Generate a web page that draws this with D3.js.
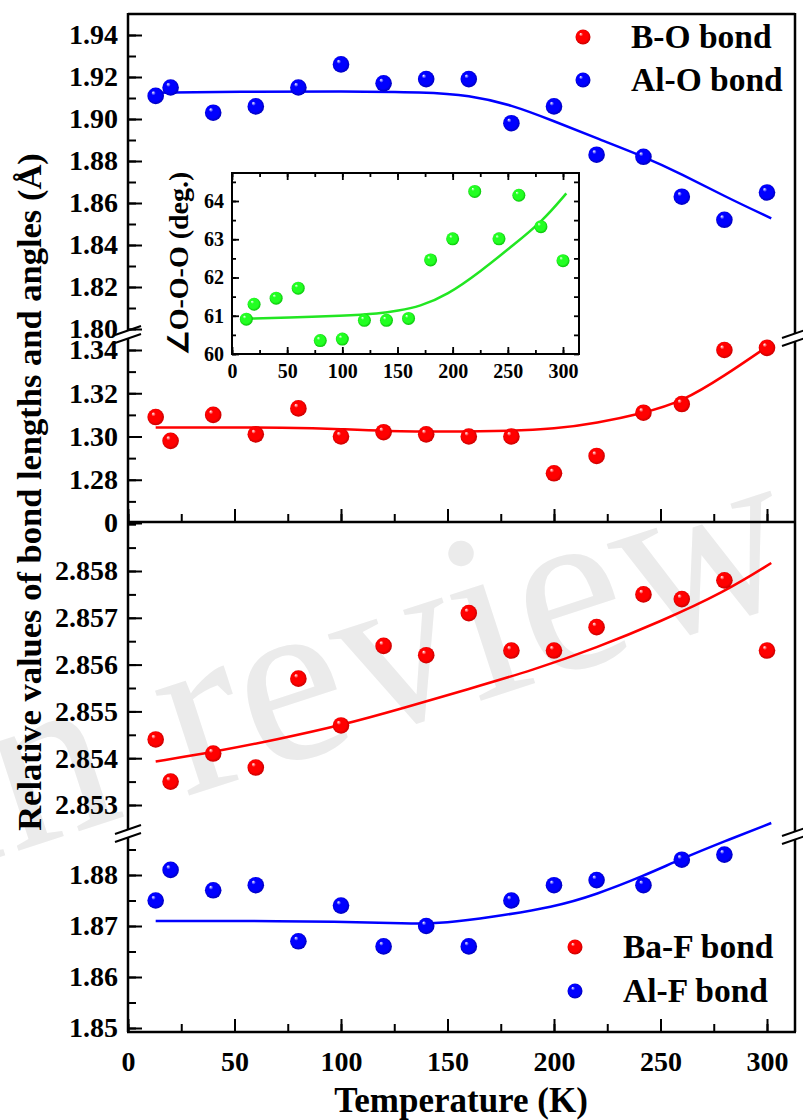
<!DOCTYPE html>
<html>
<head>
<meta charset="utf-8">
<script src="https://cdn.jsdelivr.net/npm/d3@7"></script>
<style>
  body { margin: 0; background: #ffffff; }
  svg { display: block; }
</style>
</head>
<body>
<svg id="chart" width="803" height="1120"></svg>
<script>
// temperatures (K)
const temps = [13, 20, 40, 60, 80, 100, 120, 140, 160, 180, 200, 220, 242, 260, 280, 300];

// measured points
const alO = [1.911, 1.915, 1.903, 1.906, 1.915, 1.926, 1.917, 1.919, 1.919, 1.898, 1.906, 1.883, 1.882, 1.863, 1.852, 1.865];
const bO = [1.309, 1.298, 1.310, 1.301, 1.313, 1.300, 1.302, 1.301, 1.300, 1.300, 1.283, 1.291, 1.311, 1.315, 1.340, 1.341];
const baF = [2.8544, 2.8535, 2.8541, 2.8538, 2.8557, 2.8547, 2.8564, 2.8562, 2.8571, 2.8563, 2.8563, 2.8568, 2.8575, 2.8574, 2.8578, 2.8563];
const alF = [1.875, 1.881, 1.877, 1.878, 1.867, 1.874, 1.866, 1.870, 1.866, 1.875, 1.878, 1.879, 1.878, 1.883, 1.884];
const angleOOO = [60.91, 61.30, 61.46, 61.72, 60.35, 60.39, 60.88, 60.88, 60.93, 62.46, 63.01, 64.25, 63.01, 64.15, 63.33, 62.44];

// fitted curves
const alOFitT = [13, 60, 100, 140, 160, 180, 200, 220, 242, 260, 280, 302];
const alOFit = [1.9125, 1.9131, 1.9132, 1.9128, 1.9114, 1.9068, 1.8990, 1.8908, 1.8822, 1.8738, 1.8632, 1.8527];
const bOFitT = [13, 80, 100, 120, 150, 180, 200, 220, 242, 260, 280, 300];
const bOFit = [1.3042, 1.3042, 1.3034, 1.3025, 1.3022, 1.3025, 1.3035, 1.3062, 1.3108, 1.3160, 1.3280, 1.3415];
const baFFitT = [13, 40, 70, 100, 130, 160, 190, 220, 250, 280, 302];
const baFFit = [2.85393, 2.85413, 2.8544, 2.8547, 2.85508, 2.85548, 2.85588, 2.85636, 2.85692, 2.85755, 2.85817];
const alFFitT = [13, 50, 100, 130, 150, 170, 200, 220, 242, 260, 280, 302];
const alFFit = [1.8710, 1.8710, 1.8709, 1.8704, 1.8706, 1.8717, 1.8737, 1.8762, 1.8798, 1.8832, 1.8866, 1.8902];
const angleFitT = [13, 50, 100, 134, 150, 170, 195, 225, 255, 281, 303];
const angleFit = [60.92, 60.95, 61.0, 61.06, 61.13, 61.24, 61.54, 62.15, 62.85, 63.46, 64.2];

// ticks
const xTicks = [0, 50, 100, 150, 200, 250, 300];
const alOTicks = [1.80, 1.82, 1.84, 1.86, 1.88, 1.90, 1.92, 1.94];
const bOTicks = [1.26, 1.28, 1.30, 1.32, 1.34];
const bOTickLabels = ["0", "1.28", "1.30", "1.32", "1.34"];
const baFTicks = [2.853, 2.854, 2.855, 2.856, 2.857, 2.858];
const alFTicks = [1.85, 1.86, 1.87, 1.88];
const insetYTicks = [60, 61, 62, 63, 64];

const legendTop = ["B-O bond", "Al-O bond"];
const legendBottom = ["Ba-F bond", "Al-F bond"];

const serif = "'Liberation Serif', 'Times New Roman', serif";
const RED = "#ff0000";
const BLUE = "#0000ff";
const GREEN = "#22e622";

const svg = d3.select("#chart");
const frame = { left: 128, right: 795, top: 14, mid: 522, bottom: 1032 };

const x = d3.scaleLinear().domain([0, 300]).range([128, 767]);
const yAlO = d3.scaleLinear().domain([1.80, 1.94]).range([329, 35]);
const yBO = d3.scaleLinear().domain([1.26, 1.34]).range([523, 350]);
const yBaF = d3.scaleLinear().domain([2.853, 2.858]).range([805, 571]);
const yAlF = d3.scaleLinear().domain([1.85, 1.88]).range([1028, 875]);

const xi = d3.scaleLinear().domain([0, 300]).range([232, 563]);
const yi = d3.scaleLinear().domain([60, 64]).range([354, 201]);

// sphere gradients
const defs = svg.append("defs");
const ball = (id, base, dark) => {
  const g = defs
    .append("radialGradient")
    .attr("id", id)
    .attr("cx", "50%")
    .attr("cy", "50%")
    .attr("r", "55%")
    .attr("fx", "33%")
    .attr("fy", "28%");
  g.append("stop").attr("offset", "0%").attr("stop-color", "#ffffff");
  g.append("stop").attr("offset", "24%").attr("stop-color", base);
  g.append("stop").attr("offset", "70%").attr("stop-color", base);
  g.append("stop").attr("offset", "100%").attr("stop-color", dark);
};
ball("ball-red", RED, "#b80000");
ball("ball-blue", BLUE, "#0000a8");
ball("ball-green", "#22ff22", "#00b000");

// watermark
svg
  .append("text")
  .attr("transform", "translate(175,800) rotate(-18)")
  .attr("x", -250)
  .attr("font-family", serif)
  .attr("font-size", 240)
  .attr("fill", "#ebebeb")
  .text("In review");

// y axes (ticks inside, labels left)
const yAxis = (scale, values, labels, minorStep, extent) => {
  const minor = d3.range(extent[0], extent[1] + minorStep / 2, minorStep);
  svg
    .append("g")
    .attr("transform", `translate(${frame.left},0)`)
    .call(d3.axisLeft(scale).tickValues(minor).tickSizeInner(-8).tickSizeOuter(0).tickFormat(""))
    .call((g) => g.select(".domain").remove())
    .call((g) => g.selectAll("line").attr("stroke", "#000").attr("stroke-width", 2));
  svg
    .append("g")
    .attr("transform", `translate(${frame.left},0)`)
    .call(
      d3
        .axisLeft(scale)
        .tickValues(values)
        .tickSizeInner(-14)
        .tickSizeOuter(0)
        .tickPadding(10)
        .tickFormat((d, i) => labels[i])
    )
    .attr("font-family", serif)
    .attr("font-size", 28)
    .attr("font-weight", "bold")
    .call((g) => g.select(".domain").remove())
    .call((g) => g.selectAll("line").attr("stroke", "#000").attr("stroke-width", 2))
    .call((g) => g.selectAll("text").attr("fill", "#000"));
};

yAxis(yAlO, alOTicks, alOTicks.map((d) => d.toFixed(2)), 0.01, [1.80, 1.94]);
yAxis(yBO, bOTicks, bOTickLabels, 0.01, [1.26, 1.34]);
yAxis(yBaF, baFTicks, baFTicks.map((d) => d.toFixed(3)), 0.0005, [2.853, 2.859]);
yAxis(yAlF, alFTicks, alFTicks.map((d) => d.toFixed(2)), 0.005, [1.85, 1.885]);

// x ticks on the middle line and bottom line
const minorX = d3.range(0, 301, 25);
[frame.mid, frame.bottom].forEach((yPos) => {
  svg
    .append("g")
    .attr("transform", `translate(0,${yPos})`)
    .call(d3.axisTop(x).tickValues(minorX).tickSizeInner(8).tickSizeOuter(0).tickFormat(""))
    .call((g) => g.select(".domain").remove())
    .call((g) => g.selectAll("line").attr("stroke", "#000").attr("stroke-width", 2));
  svg
    .append("g")
    .attr("transform", `translate(0,${yPos})`)
    .call(d3.axisTop(x).tickValues(xTicks).tickSizeInner(13).tickSizeOuter(0).tickFormat(""))
    .call((g) => g.select(".domain").remove())
    .call((g) => g.selectAll("line").attr("stroke", "#000").attr("stroke-width", 2));
});

svg
  .append("g")
  .attr("transform", `translate(0,${frame.bottom})`)
  .call(d3.axisBottom(x).tickValues(xTicks).tickSize(0).tickPadding(19).tickFormat(d3.format("d")))
  .attr("font-family", serif)
  .attr("font-size", 28)
  .attr("font-weight", "bold")
  .call((g) => g.select(".domain").remove())
  .call((g) => g.selectAll("text").attr("fill", "#000"));

// frame with axis breaks
const breaks = [
  { x: frame.left, y: 335 },
  { x: frame.right, y: 338 },
  { x: frame.left, y: 834 },
  { x: frame.right, y: 836 },
];
const frameLines = [
  [frame.left, frame.top, frame.right, frame.top],
  [frame.left, frame.mid, frame.right, frame.mid],
  [frame.left - 1, frame.bottom, frame.right + 1, frame.bottom],
  [frame.left, frame.top - 1, frame.left, breaks[0].y - 4],
  [frame.left, breaks[0].y + 4, frame.left, breaks[2].y - 4],
  [frame.left, breaks[2].y + 4, frame.left, frame.bottom],
  [frame.right, frame.top - 1, frame.right, breaks[1].y - 4],
  [frame.right, breaks[1].y + 4, frame.right, breaks[3].y - 4],
  [frame.right, breaks[3].y + 4, frame.right, frame.bottom],
];
svg
  .append("g")
  .selectAll("line")
  .data(frameLines)
  .join("line")
  .attr("x1", (d) => d[0])
  .attr("y1", (d) => d[1])
  .attr("x2", (d) => d[2])
  .attr("y2", (d) => d[3])
  .attr("stroke", "#000")
  .attr("stroke-width", 2.5);

svg
  .append("g")
  .selectAll("path")
  .data(breaks)
  .join("path")
  .attr(
    "d",
    (b) =>
      `M${b.x - 13},${b.y} L${b.x + 13},${b.y - 9} M${b.x - 13},${b.y + 8} L${b.x + 13},${b.y - 1}`
  )
  .attr("stroke", "#000")
  .attr("stroke-width", 2)
  .attr("fill", "none");

// fits and points
const drawFit = (ts, vals, xs, ys, color, width) => {
  const line = d3
    .line()
    .x((d) => xs(d[0]))
    .y((d) => ys(d[1]))
    .curve(d3.curveBasis);
  svg
    .append("path")
    .datum(d3.zip(ts, vals))
    .attr("d", line)
    .attr("fill", "none")
    .attr("stroke", color)
    .attr("stroke-width", width);
};

const drawPoints = (ts, vals, xs, ys, grad, r) => {
  svg
    .append("g")
    .selectAll("circle")
    .data(d3.zip(ts, vals))
    .join("circle")
    .attr("cx", (d) => xs(d[0]))
    .attr("cy", (d) => ys(d[1]))
    .attr("r", r)
    .attr("fill", `url(#${grad})`);
};

drawFit(alOFitT, alOFit, x, yAlO, BLUE, 2.5);
drawFit(bOFitT, bOFit, x, yBO, RED, 2.5);
drawFit(baFFitT, baFFit, x, yBaF, RED, 2.5);
drawFit(alFFitT, alFFit, x, yAlF, BLUE, 2.5);

drawPoints(temps, alO, x, yAlO, "ball-blue", 8.3);
drawPoints(temps, bO, x, yBO, "ball-red", 8.3);
drawPoints(temps, baF, x, yBaF, "ball-red", 8.3);
drawPoints(temps.slice(0, alF.length), alF, x, yAlF, "ball-blue", 8.3);

// inset
const inset = { left: 232, right: 579, top: 173, bottom: 354 };
svg
  .append("rect")
  .attr("x", inset.left)
  .attr("y", inset.top)
  .attr("width", inset.right - inset.left)
  .attr("height", inset.bottom - inset.top)
  .attr("fill", "#fff");

const insetTicks = (axis, tx, ty, values, size) => {
  svg
    .append("g")
    .attr("transform", `translate(${tx},${ty})`)
    .call(axis.tickValues(values).tickSizeInner(size).tickSizeOuter(0).tickFormat(""))
    .call((g) => g.select(".domain").remove())
    .call((g) => g.selectAll("line").attr("stroke", "#000").attr("stroke-width", 1.8));
};
const insetMinorX = d3.range(0, 301, 25);
const insetMinorY = d3.range(60, 64.6, 0.5);
insetTicks(d3.axisLeft(yi), inset.left, 0, insetMinorY, -4);
insetTicks(d3.axisLeft(yi), inset.left, 0, insetYTicks, -7);
insetTicks(d3.axisRight(yi), inset.right, 0, insetMinorY, -5);
insetTicks(d3.axisTop(xi), 0, inset.bottom, insetMinorX, 4);
insetTicks(d3.axisTop(xi), 0, inset.bottom, xTicks, 7);
insetTicks(d3.axisBottom(xi), 0, inset.top, insetMinorX, 4);
insetTicks(d3.axisBottom(xi), 0, inset.top, xTicks, 7);

svg
  .append("g")
  .attr("transform", `translate(${inset.left},0)`)
  .call(d3.axisLeft(yi).tickValues(insetYTicks).tickSize(0).tickPadding(8).tickFormat(d3.format("d")))
  .attr("font-family", serif)
  .attr("font-size", 20)
  .attr("font-weight", "bold")
  .call((g) => g.select(".domain").remove())
  .call((g) => g.selectAll("text").attr("fill", "#000"));

svg
  .append("g")
  .attr("transform", `translate(0,${inset.bottom})`)
  .call(d3.axisBottom(xi).tickValues(xTicks).tickSize(0).tickPadding(10).tickFormat(d3.format("d")))
  .attr("font-family", serif)
  .attr("font-size", 20)
  .attr("font-weight", "bold")
  .call((g) => g.select(".domain").remove())
  .call((g) => g.selectAll("text").attr("fill", "#000"));

drawFit(angleFitT, angleFit, xi, yi, GREEN, 2.5);
drawPoints(temps, angleOOO, xi, yi, "ball-green", 6.5);

svg
  .append("rect")
  .attr("x", inset.left)
  .attr("y", inset.top)
  .attr("width", inset.right - inset.left)
  .attr("height", inset.bottom - inset.top)
  .attr("fill", "none")
  .attr("stroke", "#000")
  .attr("stroke-width", 2);

svg
  .append("text")
  .attr("transform", `translate(188,${(inset.top + inset.bottom) / 2}) rotate(-90)`)
  .attr("text-anchor", "middle")
  .attr("font-family", serif)
  .attr("font-size", 28)
  .attr("font-weight", "bold")
  .text("∠O-O-O (deg.)");

// legends
const legend = (labels, grads, lx, ly, gap) => {
  labels.forEach((label, i) => {
    svg
      .append("circle")
      .attr("cx", lx)
      .attr("cy", ly + i * gap)
      .attr("r", 7.5)
      .attr("fill", `url(#${grads[i]})`);
    svg
      .append("text")
      .attr("x", lx + 48)
      .attr("y", ly + i * gap + 11)
      .attr("font-family", serif)
      .attr("font-size", 33.5)
      .attr("font-weight", "bold")
      .text(label);
  });
};
legend(legendTop, ["ball-red", "ball-blue"], 583, 37, 43);
legend(legendBottom, ["ball-red", "ball-blue"], 575, 947, 44);

// axis titles
svg
  .append("text")
  .attr("x", 461)
  .attr("y", 1112)
  .attr("text-anchor", "middle")
  .attr("font-family", serif)
  .attr("font-size", 35)
  .attr("font-weight", "bold")
  .text("Temperature (K)");

svg
  .append("text")
  .attr("transform", "translate(41,492) rotate(-90)")
  .attr("text-anchor", "middle")
  .attr("font-family", serif)
  .attr("font-size", 34.5)
  .attr("font-weight", "bold")
  .text("Relative values of bond lengths and angles (Å)");
</script>
</body>
</html>
